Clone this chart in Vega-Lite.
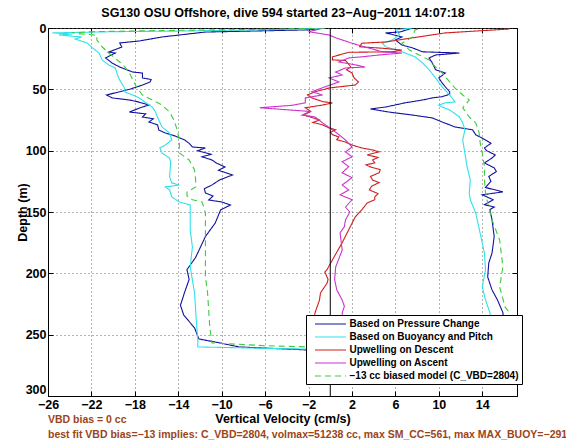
{
"$schema": "https://vega.github.io/schema/vega-lite/v6.json",
"width": 469,
"height": 368,
"padding": {"left": 16, "top": 6, "right": 5, "bottom": 0},
"title": {"text": ["VBD bias = 0 cc", "best fit VBD bias=−13 implies: C_VBD=2804, volmax=51238 cc, max SM_CC=561, max MAX_BUOY=−291"], "orient": "bottom", "anchor": "start", "frame": "group", "color": "#9c4418", "font": "Liberation Sans", "fontSize": 10.5, "fontWeight": "bold", "lineHeight": 15, "offset": -10},
"datasets": {
"lines": [
{"s":"P","d":0,"v":-0.5},{"s":"P","d":1.5,"v":-2},{"s":"P","d":3.3,"v":-11.5},{"s":"P","d":7.3,"v":-15.5},{"s":"P","d":10.6,"v":-17.6},{"s":"P","d":12.2,"v":-19.4},{"s":"P","d":15.5,"v":-19.2},{"s":"P","d":19.6,"v":-20.4},{"s":"P","d":20.4,"v":-19.8},{"s":"P","d":24.4,"v":-20.7},{"s":"P","d":28.5,"v":-20.1},{"s":"P","d":31.8,"v":-19.4},{"s":"P","d":35.9,"v":-18.2},{"s":"P","d":36.7,"v":-17.3},{"s":"P","d":40.7,"v":-17.3},{"s":"P","d":42,"v":-16.5},{"s":"P","d":44,"v":-16.6},{"s":"P","d":46.5,"v":-17.3},{"s":"P","d":50,"v":-18.5},{"s":"P","d":54.6,"v":-20.6},{"s":"P","d":57,"v":-20.1},{"s":"P","d":58.7,"v":-18.5},{"s":"P","d":60,"v":-17.8},{"s":"P","d":62.8,"v":-16.7},{"s":"P","d":65,"v":-17.5},{"s":"P","d":68.5,"v":-18.5},{"s":"P","d":70,"v":-17.0},{"s":"P","d":72.5,"v":-17.3},{"s":"P","d":74,"v":-16.3},{"s":"P","d":76.6,"v":-16.7},{"s":"P","d":79,"v":-15.9},{"s":"P","d":83.1,"v":-15.8},{"s":"P","d":85.6,"v":-15.2},{"s":"P","d":88,"v":-14.3},{"s":"P","d":91.3,"v":-13.4},{"s":"P","d":94,"v":-13.0},{"s":"P","d":97,"v":-12.7},{"s":"P","d":97.8,"v":-11.5},{"s":"P","d":100,"v":-12.2},{"s":"P","d":103,"v":-11.0},{"s":"P","d":105,"v":-11.8},{"s":"P","d":107.6,"v":-10.9},{"s":"P","d":110,"v":-10.5},{"s":"P","d":113.3,"v":-9.7},{"s":"P","d":116,"v":-10.3},{"s":"P","d":119.8,"v":-9.0},{"s":"P","d":123.9,"v":-10.2},{"s":"P","d":128,"v":-10.9},{"s":"P","d":131,"v":-11.6},{"s":"P","d":134.5,"v":-11.5},{"s":"P","d":137,"v":-10.8},{"s":"P","d":140.2,"v":-11.2},{"s":"P","d":141.8,"v":-10.0},{"s":"P","d":144.3,"v":-9.2},{"s":"P","d":148.3,"v":-10.1},{"s":"P","d":159,"v":-10.6},{"s":"P","d":170,"v":-11.5},{"s":"P","d":187,"v":-12.4},{"s":"P","d":197,"v":-13.2},{"s":"P","d":205,"v":-13.0},{"s":"P","d":215,"v":-13.4},{"s":"P","d":226,"v":-13.8},{"s":"P","d":234,"v":-13.5},{"s":"P","d":244.5,"v":-12.5},{"s":"P","d":253.5,"v":-12.1},{"s":"P","d":256.7,"v":-10.2},{"s":"P","d":260,"v":-8.4},{"s":"P","d":262.4,"v":-2.3},{"s":"P","d":263.5,"v":6},{"s":"P","d":264,"v":14},
{"s":"P","d":262,"v":16.0},{"s":"P","d":250,"v":16.0},{"s":"P","d":240,"v":16.0},{"s":"P","d":232,"v":15.9},{"s":"P","d":221.7,"v":15.4},{"s":"P","d":213.5,"v":14.9},{"s":"P","d":203,"v":14.5},{"s":"P","d":191.5,"v":14.6},{"s":"P","d":183.5,"v":14.9},{"s":"P","d":170,"v":15.1},{"s":"P","d":156.5,"v":14.9},{"s":"P","d":148,"v":14.7},{"s":"P","d":146,"v":15.1},{"s":"P","d":144,"v":14.2},{"s":"P","d":140,"v":15.0},{"s":"P","d":136,"v":14.0},{"s":"P","d":133.6,"v":15.9},{"s":"P","d":130,"v":14.3},{"s":"P","d":125,"v":14.8},{"s":"P","d":121,"v":14.6},{"s":"P","d":117,"v":15.3},{"s":"P","d":114,"v":15.1},{"s":"P","d":110,"v":14.2},{"s":"P","d":106,"v":14.9},{"s":"P","d":103.5,"v":15.2},{"s":"P","d":100,"v":14.4},{"s":"P","d":97.8,"v":14.2},{"s":"P","d":94,"v":14.8},{"s":"P","d":91.3,"v":14.3},{"s":"P","d":87,"v":13.4},{"s":"P","d":83,"v":13.1},{"s":"P","d":80.7,"v":11.5},{"s":"P","d":76.6,"v":10.3},{"s":"P","d":73.3,"v":9.4},{"s":"P","d":71,"v":7.6},{"s":"P","d":68.5,"v":5.4},{"s":"P","d":66,"v":3.7},{"s":"P","d":64.4,"v":5.1},{"s":"P","d":61,"v":6.9},{"s":"P","d":58.7,"v":8.5},{"s":"P","d":57,"v":9.4},{"s":"P","d":56,"v":10.3},{"s":"P","d":54,"v":11.0},{"s":"P","d":52,"v":11.0},{"s":"P","d":48,"v":10.6},{"s":"P","d":44.8,"v":10.3},{"s":"P","d":40.7,"v":10.0},{"s":"P","d":36.7,"v":10.6},{"s":"P","d":34,"v":9.7},{"s":"P","d":28.5,"v":9.4},{"s":"P","d":24.4,"v":9.1},{"s":"P","d":22,"v":9.7},{"s":"P","d":20.4,"v":11.9},{"s":"P","d":19.4,"v":8.5},{"s":"P","d":16.3,"v":7.6},{"s":"P","d":13.9,"v":6.6},{"s":"P","d":9.8,"v":6.0},{"s":"P","d":7.3,"v":6.6},{"s":"P","d":4,"v":5.1},{"s":"P","d":3.3,"v":6.4},{"s":"P","d":0,"v":7.6},
{"s":"B","d":0,"v":-0.5},{"s":"B","d":1,"v":-3},{"s":"B","d":2.5,"v":-14},{"s":"B","d":3,"v":-20},{"s":"B","d":4,"v":-25.6},{"s":"B","d":5,"v":-23.8},{"s":"B","d":5.7,"v":-25},{"s":"B","d":7.3,"v":-22.9},{"s":"B","d":9,"v":-23.5},{"s":"B","d":12.2,"v":-22.4},{"s":"B","d":16.3,"v":-21.9},{"s":"B","d":20.4,"v":-21.3},{"s":"B","d":26.1,"v":-21.0},{"s":"B","d":30.2,"v":-20.4},{"s":"B","d":32.6,"v":-19.8},{"s":"B","d":38.3,"v":-19.6},{"s":"B","d":42.4,"v":-19.4},{"s":"B","d":48.1,"v":-19.0},{"s":"B","d":52.2,"v":-18.9},{"s":"B","d":54.6,"v":-18.2},{"s":"B","d":57,"v":-17.6},{"s":"B","d":60.3,"v":-17.1},{"s":"B","d":64.4,"v":-16.4},{"s":"B","d":68.5,"v":-16.1},{"s":"B","d":75,"v":-15.8},{"s":"B","d":80.7,"v":-15.5},{"s":"B","d":85.6,"v":-14.8},{"s":"B","d":91.3,"v":-14.6},{"s":"B","d":95.4,"v":-15.2},{"s":"B","d":97.8,"v":-15.7},{"s":"B","d":101.9,"v":-15.5},{"s":"B","d":106,"v":-14.8},{"s":"B","d":110,"v":-14.7},{"s":"B","d":121.4,"v":-14.8},{"s":"B","d":126.3,"v":-14.6},{"s":"B","d":128,"v":-13.9},{"s":"B","d":129.6,"v":-15.2},{"s":"B","d":132,"v":-14.8},{"s":"B","d":137.7,"v":-14.6},{"s":"B","d":141.8,"v":-13.9},{"s":"B","d":144.3,"v":-12.9},{"s":"B","d":164.6,"v":-12.9},{"s":"B","d":178.5,"v":-12.7},{"s":"B","d":194.8,"v":-12.9},{"s":"B","d":205.4,"v":-12.7},{"s":"B","d":216,"v":-12.5},{"s":"B","d":230,"v":-12.4},{"s":"B","d":243.7,"v":-12.3},{"s":"B","d":254,"v":-12.2},{"s":"B","d":260,"v":-12.2},{"s":"B","d":261.5,"v":-4},{"s":"B","d":262.5,"v":5},{"s":"B","d":263,"v":13},
{"s":"B","d":250,"v":15.0},{"s":"B","d":240,"v":14.9},{"s":"B","d":232,"v":14.7},{"s":"B","d":221.7,"v":14.3},{"s":"B","d":211,"v":14.0},{"s":"B","d":197,"v":14.3},{"s":"B","d":183.5,"v":14.2},{"s":"B","d":167,"v":13.8},{"s":"B","d":151,"v":13.4},{"s":"B","d":140,"v":12.9},{"s":"B","d":134.5,"v":12.8},{"s":"B","d":124,"v":12.9},{"s":"B","d":113,"v":12.6},{"s":"B","d":102,"v":12.4},{"s":"B","d":91.3,"v":12.2},{"s":"B","d":83,"v":12.4},{"s":"B","d":77.4,"v":12.2},{"s":"B","d":72.5,"v":11.9},{"s":"B","d":66.8,"v":11.0},{"s":"B","d":64.4,"v":10.3},{"s":"B","d":62.8,"v":10.0},{"s":"B","d":61,"v":10.6},{"s":"B","d":60.3,"v":11.5},{"s":"B","d":54.6,"v":11.0},{"s":"B","d":48,"v":10.3},{"s":"B","d":40.7,"v":9.7},{"s":"B","d":34,"v":9.1},{"s":"B","d":28.5,"v":8.5},{"s":"B","d":23.5,"v":7.8},{"s":"B","d":19.4,"v":6.6},{"s":"B","d":15.3,"v":5.1},{"s":"B","d":12.4,"v":4.8},{"s":"B","d":9.8,"v":5.7},{"s":"B","d":5.7,"v":6.4},{"s":"B","d":1.6,"v":6.0},{"s":"B","d":0,"v":7.5},
{"s":"D","d":0.8,"v":16.5},{"s":"D","d":4,"v":10.6},{"s":"D","d":8,"v":7.6},{"s":"D","d":11.4,"v":5.1},{"s":"D","d":12.4,"v":2.9},{"s":"D","d":15.3,"v":2.7},{"s":"D","d":16.5,"v":4.8},{"s":"D","d":18,"v":6.6},{"s":"D","d":19.4,"v":5.7},{"s":"D","d":19.8,"v":1.7},{"s":"D","d":23.5,"v":0.2},{"s":"D","d":26,"v":0.2},{"s":"D","d":26.5,"v":1.4},{"s":"D","d":31.8,"v":1.9},{"s":"D","d":34,"v":1.5},{"s":"D","d":36.7,"v":2.0},{"s":"D","d":40.7,"v":2.2},{"s":"D","d":44,"v":2.6},{"s":"D","d":46.5,"v":2.3},{"s":"D","d":48,"v":0.8},{"s":"D","d":48.9,"v":-0.1},{"s":"D","d":52,"v":-1.4},{"s":"D","d":54.6,"v":-2.1},{"s":"D","d":57,"v":-1.7},{"s":"D","d":60,"v":-0.7},{"s":"D","d":61.1,"v":0.2},{"s":"D","d":62.8,"v":-0.7},{"s":"D","d":65,"v":-2.3},{"s":"D","d":68,"v":-1.8},{"s":"D","d":71,"v":-2.4},{"s":"D","d":73,"v":-1.7},{"s":"D","d":75,"v":-1.0},{"s":"D","d":77,"v":-1.6},{"s":"D","d":79,"v":-0.7},{"s":"D","d":81.5,"v":-0.1},{"s":"D","d":83,"v":0.5},{"s":"D","d":85,"v":0.0},{"s":"D","d":87,"v":0.2},{"s":"D","d":88.8,"v":0.8},{"s":"D","d":91,"v":0.6},{"s":"D","d":93,"v":1.4},{"s":"D","d":95.4,"v":2.0},{"s":"D","d":97.8,"v":2.9},{"s":"D","d":99.4,"v":3.9},{"s":"D","d":101,"v":4.5},{"s":"D","d":103.5,"v":3.4},{"s":"D","d":105.5,"v":4.4},{"s":"D","d":107.6,"v":3.9},{"s":"D","d":110,"v":4.1},{"s":"D","d":111.5,"v":3.3},{"s":"D","d":113,"v":3.6},{"s":"D","d":115.5,"v":4.6},{"s":"D","d":118,"v":4.5},{"s":"D","d":121,"v":3.7},{"s":"D","d":124,"v":3.9},{"s":"D","d":126,"v":4.5},{"s":"D","d":129,"v":3.8},{"s":"D","d":132,"v":3.6},{"s":"D","d":135,"v":4.4},{"s":"D","d":137.7,"v":4.1},{"s":"D","d":140,"v":4.1},{"s":"D","d":142.6,"v":3.4},{"s":"D","d":148.3,"v":2.9},{"s":"D","d":154,"v":2.3},{"s":"D","d":175,"v":1.1},{"s":"D","d":189,"v":0.2},{"s":"D","d":197,"v":-0.3},{"s":"D","d":199,"v":-0.5},{"s":"D","d":205,"v":-0.2},{"s":"D","d":208,"v":-0.3},{"s":"D","d":216,"v":-0.9},{"s":"D","d":222,"v":-1.0},{"s":"D","d":232,"v":-1.4},{"s":"D","d":245,"v":-1.6},{"s":"D","d":255,"v":-1.8},{"s":"D","d":262,"v":-2.0},
{"s":"A","d":0,"v":-0.6},{"s":"A","d":3,"v":-2.0},{"s":"A","d":5.7,"v":-0.1},{"s":"A","d":8,"v":0.5},{"s":"A","d":12.4,"v":2.0},{"s":"A","d":16.5,"v":3.6},{"s":"A","d":19.4,"v":4.8},{"s":"A","d":20.4,"v":6.6},{"s":"A","d":22,"v":4.5},{"s":"A","d":23.5,"v":2.9},{"s":"A","d":24.4,"v":1.7},{"s":"A","d":27.7,"v":0.8},{"s":"A","d":30,"v":2.3},{"s":"A","d":31.8,"v":3.2},{"s":"A","d":32.6,"v":1.4},{"s":"A","d":35.9,"v":0.5},{"s":"A","d":38.3,"v":1.1},{"s":"A","d":40.7,"v":-0.1},{"s":"A","d":44,"v":0.8},{"s":"A","d":48,"v":-0.5},{"s":"A","d":52,"v":-1.7},{"s":"A","d":54.6,"v":-0.7},{"s":"A","d":57,"v":-2.3},{"s":"A","d":61,"v":-2.3},{"s":"A","d":63,"v":-3.5},{"s":"A","d":65,"v":-6.5},{"s":"A","d":66.8,"v":-3.8},{"s":"A","d":68,"v":-1.9},{"s":"A","d":71,"v":-2.6},{"s":"A","d":72.5,"v":-1.4},{"s":"A","d":77.4,"v":-0.7},{"s":"A","d":83,"v":0.2},{"s":"A","d":87,"v":0.8},{"s":"A","d":91.3,"v":1.4},{"s":"A","d":97,"v":2.0},{"s":"A","d":101,"v":1.4},{"s":"A","d":105,"v":2.0},{"s":"A","d":109,"v":1.1},{"s":"A","d":113,"v":1.7},{"s":"A","d":118,"v":1.1},{"s":"A","d":122,"v":2.0},{"s":"A","d":128,"v":1.1},{"s":"A","d":132,"v":1.7},{"s":"A","d":136,"v":0.9},{"s":"A","d":140,"v":2.0},{"s":"A","d":146,"v":1.4},{"s":"A","d":150,"v":1.8},{"s":"A","d":156.5,"v":1.4},{"s":"A","d":162,"v":1.3},{"s":"A","d":167,"v":0.9},{"s":"A","d":181,"v":1.1},{"s":"A","d":194.8,"v":0.5},{"s":"A","d":205,"v":0.4},{"s":"A","d":213.5,"v":0.6},{"s":"A","d":221.7,"v":1.1},{"s":"A","d":227,"v":1.3},{"s":"A","d":232,"v":1.1},{"s":"A","d":245,"v":1.2},{"s":"A","d":262,"v":1.0},
{"s":"G","d":0,"v":-0.5},{"s":"G","d":1,"v":-5},{"s":"G","d":2,"v":-15},{"s":"G","d":3,"v":-22},{"s":"G","d":4,"v":-23.8},{"s":"G","d":6,"v":-21.5},{"s":"G","d":9.8,"v":-21.5},{"s":"G","d":15.5,"v":-21.0},{"s":"G","d":20.4,"v":-20.4},{"s":"G","d":27.7,"v":-19.4},{"s":"G","d":31.8,"v":-18.9},{"s":"G","d":38.3,"v":-18.4},{"s":"G","d":44,"v":-18.1},{"s":"G","d":48.9,"v":-17.8},{"s":"G","d":54.6,"v":-17.3},{"s":"G","d":58.7,"v":-16.4},{"s":"G","d":62.8,"v":-15.5},{"s":"G","d":68.5,"v":-14.8},{"s":"G","d":75,"v":-14.4},{"s":"G","d":83.1,"v":-14.1},{"s":"G","d":91.3,"v":-13.9},{"s":"G","d":101.9,"v":-13.9},{"s":"G","d":107.6,"v":-13.0},{"s":"G","d":115.7,"v":-12.5},{"s":"G","d":123.9,"v":-12.4},{"s":"G","d":129.6,"v":-12.4},{"s":"G","d":133.7,"v":-13.2},{"s":"G","d":137,"v":-13.2},{"s":"G","d":140,"v":-12.7},{"s":"G","d":141.8,"v":-11.8},{"s":"G","d":150.8,"v":-11.5},{"s":"G","d":164.6,"v":-11.5},{"s":"G","d":186.6,"v":-11.5},{"s":"G","d":203,"v":-11.5},{"s":"G","d":216,"v":-11.3},{"s":"G","d":230,"v":-11.2},{"s":"G","d":243.7,"v":-11.1},{"s":"G","d":256.7,"v":-10.9},{"s":"G","d":259,"v":-6},{"s":"G","d":261,"v":2},{"s":"G","d":262,"v":12},
{"s":"G","d":250,"v":16.8},{"s":"G","d":240,"v":16.7},{"s":"G","d":232,"v":16.5},{"s":"G","d":227.4,"v":16.1},{"s":"G","d":211,"v":15.6},{"s":"G","d":194.8,"v":15.9},{"s":"G","d":172.8,"v":15.6},{"s":"G","d":156.5,"v":14.9},{"s":"G","d":142.6,"v":14.5},{"s":"G","d":134.5,"v":14.3},{"s":"G","d":124,"v":14.2},{"s":"G","d":113,"v":14.2},{"s":"G","d":102,"v":14.0},{"s":"G","d":93,"v":13.8},{"s":"G","d":85,"v":13.7},{"s":"G","d":77.4,"v":13.4},{"s":"G","d":72.5,"v":12.8},{"s":"G","d":65,"v":12.2},{"s":"G","d":58.7,"v":12.8},{"s":"G","d":54.6,"v":12.2},{"s":"G","d":49,"v":11.5},{"s":"G","d":44,"v":11.0},{"s":"G","d":36.7,"v":10.3},{"s":"G","d":31.8,"v":9.7},{"s":"G","d":26,"v":9.1},{"s":"G","d":22,"v":8.2},{"s":"G","d":18,"v":7.3},{"s":"G","d":12.4,"v":6.6},{"s":"G","d":7.3,"v":7.6},{"s":"G","d":1.6,"v":7.8},{"s":"G","d":0,"v":8.5}
],
"zero": [{"x": 0, "y0": 0, "y1": 300}]
},
"layer": [
{
"data": {"name": "lines"},
"mark": {"type": "line", "strokeWidth": 1.1, "clip": true},
"encoding": {
"x": {"field": "v", "type": "quantitative", "scale": {"domain": [-26, 17.2], "nice": false, "zero": false},
"axis": {"orient": "bottom", "values": [-26, -22, -18, -14, -10, -6, -2, 2, 6, 10, 14], "title": "Vertical Velocity (cm/s)", "grid": true, "tickSize": -5, "labelPadding": 7, "labelFlush": false, "titlePadding": 2}},
"y": {"field": "d", "type": "quantitative", "scale": {"domain": [0, 300], "nice": false, "reverse": true},
"axis": {"orient": "left", "values": [0, 50, 100, 150, 200, 250, 300], "title": "Depth (m)", "grid": true, "tickSize": -5, "labelPadding": 7, "labelFlush": false, "titleX": -19,
"labelBaseline": {"condition": {"test": "datum.value == 300", "value": "bottom"}, "value": "middle"}}},
"color": {"field": "s", "type": "nominal",
"scale": {"domain": ["P", "B", "D", "A", "G"], "range": ["#12129e", "#2ee2ea", "#d01e1e", "#cc33cc", "#3ccc3c"]},
"legend": {"title": null, "orient": "none", "legendX": 258, "legendY": 287,
"labelExpr": "datum.label == 'P' ? 'Based on Pressure Change' : datum.label == 'B' ? 'Based on Buoyancy and Pitch' : datum.label == 'D' ? 'Upwelling on Descent' : datum.label == 'A' ? 'Upwelling on Ascent' : '−13 cc biased model (C_VBD=2804)'"}},
"strokeDash": {"field": "s", "type": "nominal",
"scale": {"domain": ["P", "B", "D", "A", "G"], "range": [[1, 0], [1, 0], [1, 0], [1, 0], [6, 4]]},
"legend": {"title": null, "orient": "none", "legendX": 258, "legendY": 287,
"labelExpr": "datum.label == 'P' ? 'Based on Pressure Change' : datum.label == 'B' ? 'Based on Buoyancy and Pitch' : datum.label == 'D' ? 'Upwelling on Descent' : datum.label == 'A' ? 'Upwelling on Ascent' : '−13 cc biased model (C_VBD=2804)'"}},
"order": {"value": null}
}
},
{
"data": {"name": "zero"},
"mark": {"type": "rule", "color": "black", "strokeWidth": 1},
"encoding": {
"x": {"field": "x", "type": "quantitative", "scale": {"domain": [-26, 17.2], "nice": false, "zero": false},
"axis": {"orient": "top", "values": [-26, -22, -18, -14, -10, -6, -2, 2, 6, 10, 14], "labels": false, "domain": false, "grid": false, "tickSize": -5, "title": "SG130 OSU Offshore, dive 594 started 23−Aug−2011 14:07:18", "titlePadding": 8}},
"y": {"field": "y0", "type": "quantitative", "scale": {"domain": [0, 300], "nice": false, "reverse": true},
"axis": {"orient": "right", "values": [0, 50, 100, 150, 200, 250, 300], "labels": false, "domain": false, "grid": false, "tickSize": -5, "title": null}},
"y2": {"field": "y1"}
}
}
],
"resolve": {"axis": {"x": "independent", "y": "independent"}},
"config": {
"font": "Liberation Sans",
"view": {"stroke": "black", "strokeWidth": 1},
"axis": {"labelFont": "Liberation Sans", "labelFontSize": 12.5, "labelFontWeight": "bold", "labelColor": "black", "titleFont": "Liberation Sans", "titleFontSize": 12.5, "titleFontWeight": "bold", "titleColor": "black", "domainColor": "black", "tickColor": "black", "gridColor": "#666666", "gridDash": [1, 3], "gridOpacity": 1, "gridWidth": 1},
"legend": {"labelFont": "Liberation Sans", "labelFontSize": 10, "labelFontWeight": "bold", "labelColor": "black", "labelLimit": 400, "strokeColor": "black", "fillColor": "white", "padding": 3, "symbolType": "M-3.1,0H3.1", "symbolSize": 100, "symbolOffset": 15.5, "symbolStrokeWidth": 1.2, "labelOffset": 13, "rowPadding": 2}
}
}
